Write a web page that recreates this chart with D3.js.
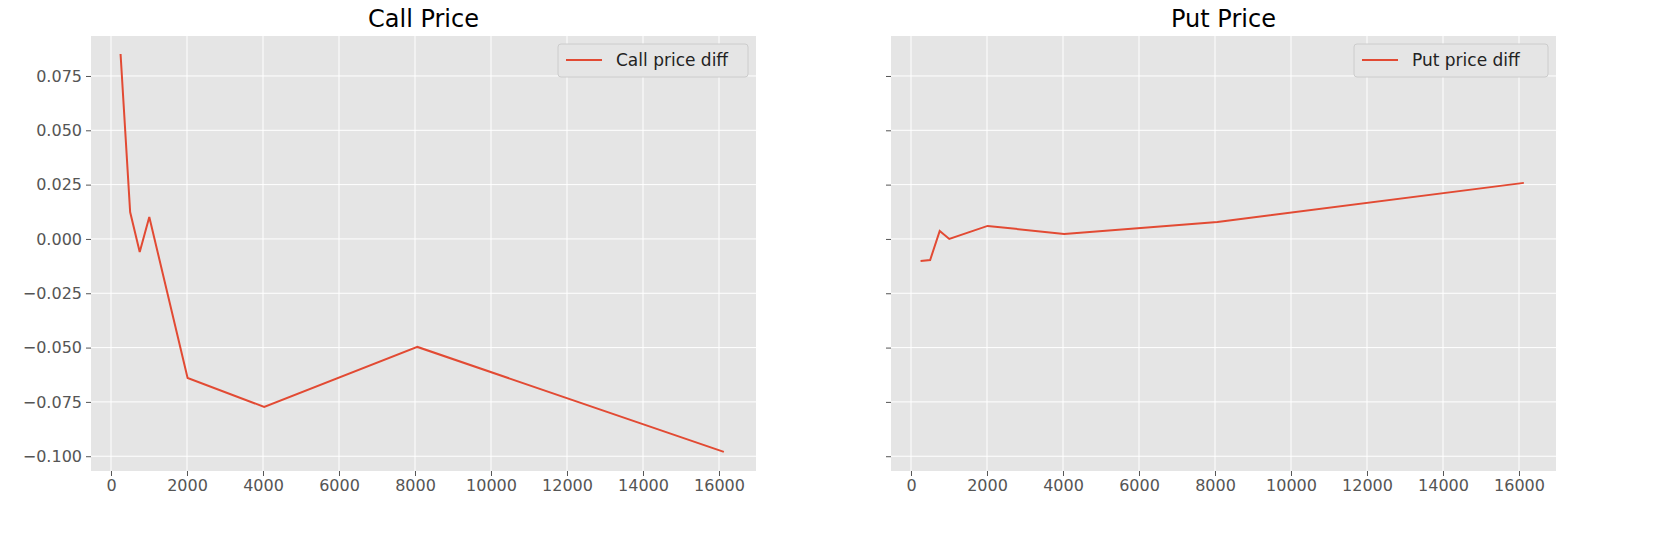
<!DOCTYPE html>
<html><head><meta charset="utf-8">
<script src="https://cdn.jsdelivr.net/npm/d3@7"></script>
<style>body{margin:0;background:#fff;font-family:"DejaVu Sans",sans-serif}</style>
</head><body><svg id="c" width="1657" height="535"></svg>
<script>
const xs = [252, 504, 756, 1008, 2016, 4032, 8064, 16128];
const callDiff = [0.0851, 0.0124, -0.006, 0.0101, -0.064, -0.0773, -0.0497, -0.098];
const putDiff = [-0.0101, -0.0097, 0.0037, 0.0, 0.006, 0.0023, 0.0078, 0.0258];
const xTicks = [0,2000,4000,6000,8000,10000,12000,14000,16000];
const yTicks = [-0.1,-0.075,-0.05,-0.025,0,0.025,0.05,0.075];
const panels = [
  {title:"Call Price", label:"Call price diff", data:callDiff, left:91, showY:true},
  {title:"Put Price", label:"Put price diff", data:putDiff, left:891, showY:false}
];
const svg = d3.select("#c");
const W = 665, pTop = 36, pBottom = 471;
const y = d3.scaleLinear().domain([-0.1068, 0.0934]).range([pBottom, pTop]);
panels.forEach(p => {
  const x = d3.scaleLinear().domain([-526, 16974]).range([p.left, p.left + W]);
  const g = svg.append("g");
  g.append("rect").attr("x", p.left).attr("y", pTop).attr("width", W).attr("height", pBottom-pTop).attr("fill", "#e5e5e5");
  xTicks.forEach(t => g.append("line").attr("x1", x(t)).attr("x2", x(t)).attr("y1", pTop).attr("y2", pBottom).attr("stroke", "#fff").attr("stroke-width", 1));
  yTicks.forEach(t => g.append("line").attr("x1", p.left).attr("x2", p.left+W).attr("y1", y(t)).attr("y2", y(t)).attr("stroke", "#fff").attr("stroke-width", 1));
  const xa = g.append("g").attr("transform", `translate(0,${pBottom})`).call(d3.axisBottom(x).tickValues(xTicks).tickFormat(d3.format("d")).tickSize(5).tickPadding(4));
  const ya = g.append("g").attr("transform", `translate(${p.left},0)`).call(d3.axisLeft(y).tickValues(yTicks).tickFormat(p.showY ? (d => d3.format(".3f")(d).replace("-", "\u2212")) : () => "").tickSize(5).tickPadding(4));
  [xa, ya].forEach(a => {
    a.select(".domain").remove();
    a.selectAll(".tick line").attr("stroke", "#555");
    a.selectAll("text").attr("fill", "#555").attr("font-size", 16).attr("font-family", "DejaVu Sans");
  });
  g.append("path").datum(p.data.map((v,i)=>[xs[i], v]))
    .attr("d", d3.line().x(d=>x(d[0])).y(d=>y(d[1])))
    .attr("fill","none").attr("stroke","#e24a33").attr("stroke-width",2);
  g.append("text").attr("x", p.left + W/2).attr("y", 27).attr("text-anchor","middle").attr("font-size", 24).attr("fill","#000").text(p.title);
  const lw = p.showY ? 190 : 194;
  const lx = p.left + W - 8 - lw;
  g.append("rect").attr("x", lx).attr("y", 44).attr("width", lw).attr("height", 33).attr("rx", 3).attr("fill", "#e5e5e5").attr("stroke", "#ccc").attr("stroke-width", 1);
  g.append("line").attr("x1", lx+8).attr("x2", lx+44).attr("y1", 60).attr("y2", 60).attr("stroke","#e24a33").attr("stroke-width",2);
  g.append("text").attr("x", lx+58).attr("y", 66).attr("font-size", 17).attr("fill","#222").text(p.label);
});
</script></body></html>
